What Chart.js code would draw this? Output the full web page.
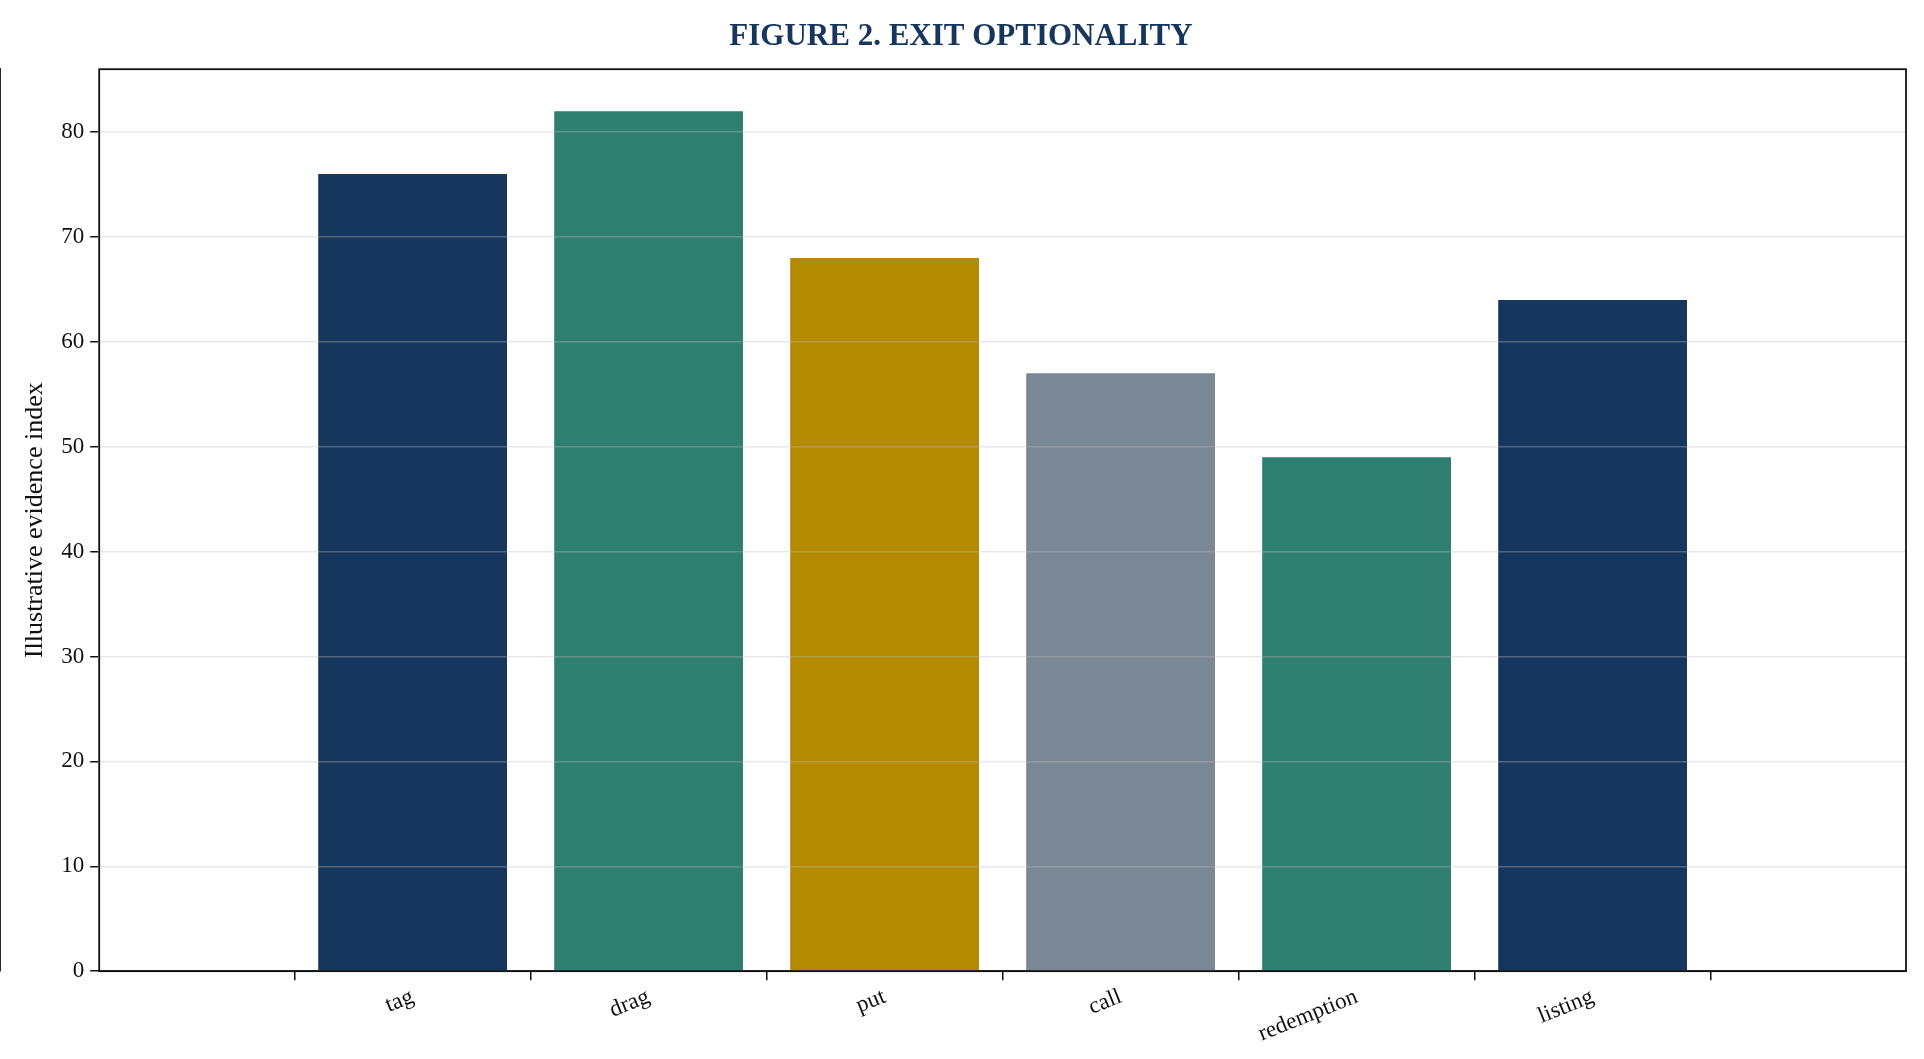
<!DOCTYPE html>
<html>
<head>
<meta charset="utf-8">
<script src="https://cdn.jsdelivr.net/npm/chart.js@4/dist/chart.umd.min.js"></script>
<style>
  html, body { margin: 0; padding: 0; background: #fff; }
  #wrap { width: 1924px; height: 1059px; }
</style>
</head>
<body>
<div id="wrap"><canvas id="fig2"></canvas></div>
<script>
var categories = ['tag', 'drag', 'put', 'call', 'redemption', 'listing'];
var values = [76, 82, 68, 57, 49, 64];
var barColors = ['#17365d', '#2e7f6f', '#b38a00', '#7a8794', '#2e7f6f', '#17365d'];
var yTicks = [0, 10, 20, 30, 40, 50, 60, 70, 80];

// frame around the plot area, like a matplotlib axes box
var frame = {
    id: 'frame',
    afterDraw: function(chart) {
        var a = chart.chartArea, ctx = chart.ctx;
        ctx.save();
        ctx.strokeStyle = '#111';
        ctx.lineWidth = 1.8;
        ctx.strokeRect(a.left, a.top, a.right - a.left, a.bottom - a.top);
        ctx.restore();
    }
};

var points = values.map(function(v, i) { return { x: i, y: v }; });

new Chart(document.getElementById('fig2').getContext('2d'), {
    type: 'bar',
    data: {
        datasets: [{
            data: points,
            backgroundColor: barColors,
            borderWidth: 0,
            categoryPercentage: 1,
            barPercentage: 0.8
        }]
    },
    options: {
        responsive: true,
        maintainAspectRatio: false,
        animation: false,
        layout: { padding: { left: 16, right: 18, top: 4, bottom: 8 } },
        plugins: {
            legend: { display: false },
            tooltip: { enabled: false },
            title: {
                display: true,
                text: 'FIGURE 2. EXIT OPTIONALITY',
                color: '#17365d',
                font: { family: 'Liberation Serif', size: 31, weight: 'bold' },
                padding: { top: 14, bottom: 14 }
            }
        },
        scales: {
            x: {
                type: 'linear',
                min: -0.69,
                max: 5.69,
                afterBuildTicks: function(axis) {
                    axis.ticks = categories.map(function(c, i) { return { value: i }; });
                },
                grid: { display: true, drawOnChartArea: false, tickLength: 9, color: '#111', lineWidth: 1.5 },
                border: { color: '#111', width: 1.8 },
                ticks: {
                    color: '#111',
                    maxRotation: 22, minRotation: 22,
                    autoSkip: false,
                    font: { family: 'Liberation Serif', size: 23 },
                    callback: function(v) { return categories[v]; }
                }
            },
            y: {
                min: 0,
                max: 86,
                afterBuildTicks: function(axis) {
                    axis.ticks = yTicks.map(function(v) { return { value: v }; });
                },
                grid: { color: 'rgba(190,190,190,0.35)', lineWidth: 1.5, z: 1, tickLength: 9, tickColor: '#111' },
                border: { color: '#111', width: 1.8 },
                ticks: {
                    color: '#111',
                    padding: 6,
                    font: { family: 'Liberation Serif', size: 23 }
                },
                title: {
                    display: true,
                    text: 'Illustrative evidence index',
                    color: '#111',
                    font: { family: 'Liberation Serif', size: 26 }
                }
            }
        }
    },
    plugins: [frame]
});
</script>
</body>
</html>
